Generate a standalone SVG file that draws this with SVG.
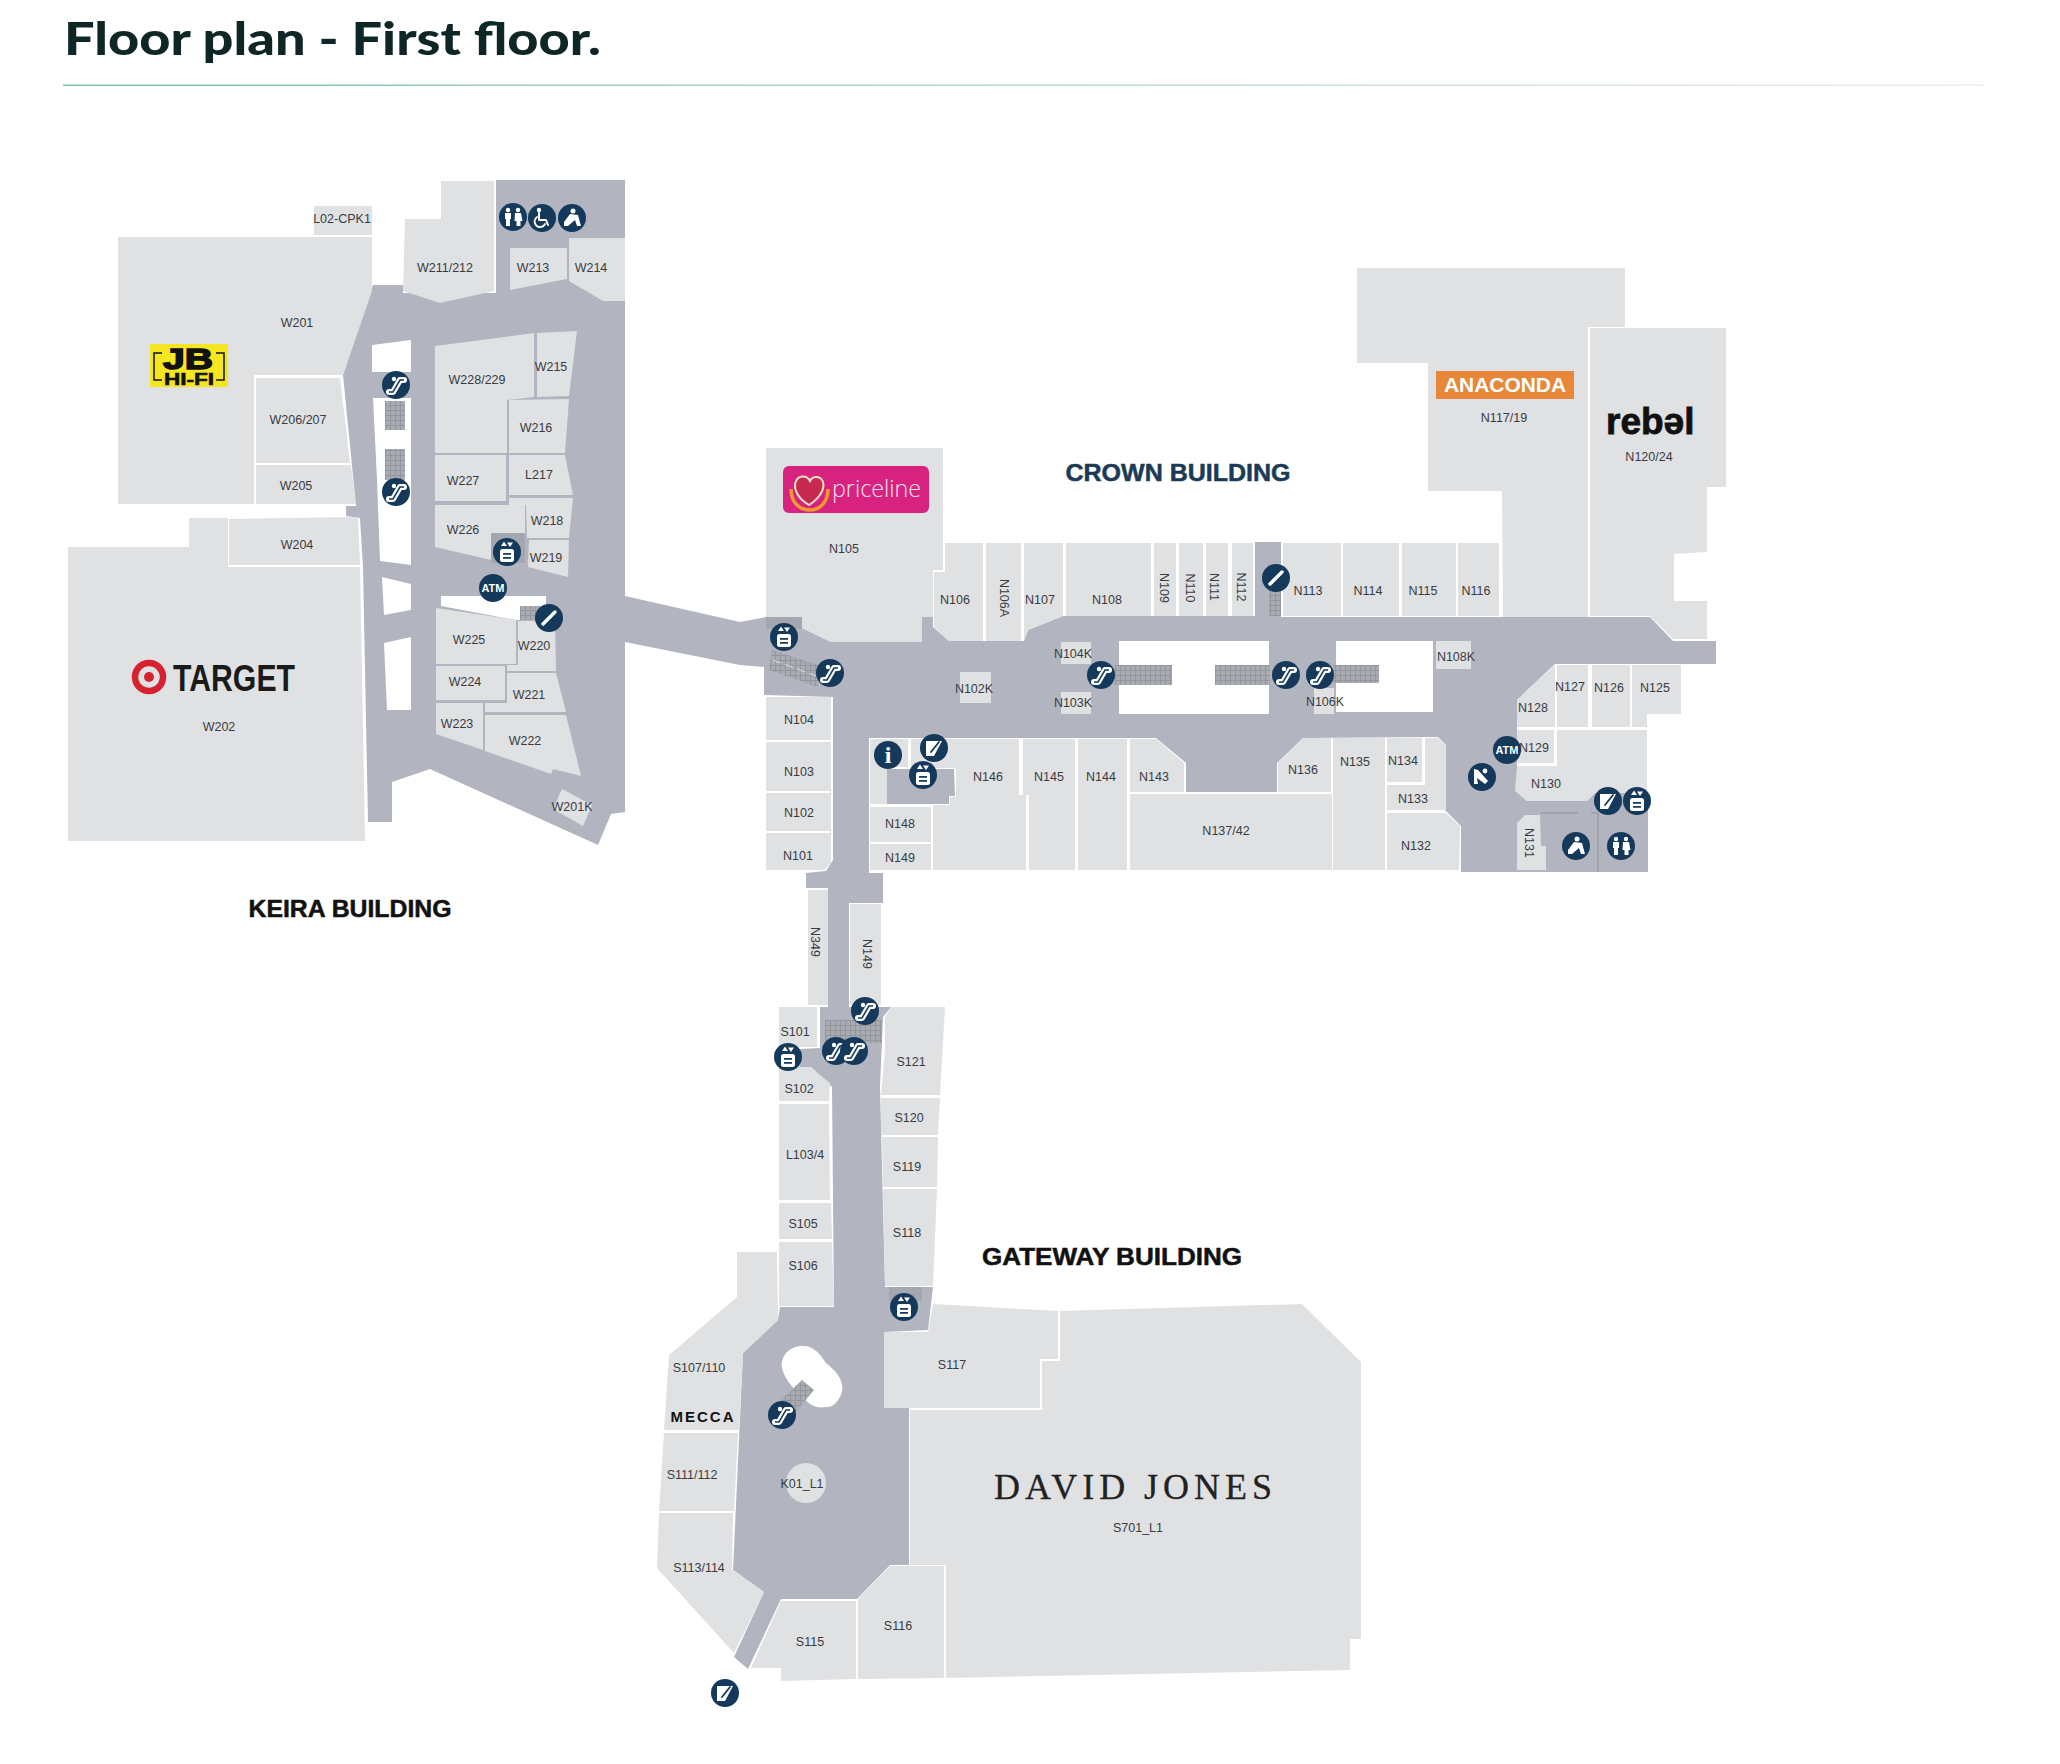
<svg xmlns="http://www.w3.org/2000/svg" width="2060" height="1764" viewBox="0 0 2060 1764">
<style>
.s{fill:#e0e1e3}
.c{fill:#b2b4bf}
.v{fill:#fff}
.g{fill:url(#steps)}
.p{fill:#a5a7b0}
.b{fill:#14395b}
.l{font:12.5px "Liberation Sans",Arial,sans-serif;fill:#383c42;text-anchor:middle;dominant-baseline:central}
.h{font:bold 24px "Liberation Sans",Arial,sans-serif;text-anchor:middle;stroke-width:.5}
.w{fill:#fff}
.ws{fill:none;stroke:#fff;stroke-linecap:round;stroke-linejoin:round}
</style>
<defs>
<linearGradient id="rule" x1="0" x2="1" y1="0" y2="0"><stop offset="0" stop-color="#7cc6a8"/><stop offset=".6" stop-color="#c4dcd2"/><stop offset="1" stop-color="#eeeeee"/></linearGradient>
<pattern id="steps" width="5" height="5" patternUnits="userSpaceOnUse"><rect width="5" height="5" fill="#a9abb2"/><path d="M0 .5H5M.5 0V5" stroke="#94969e" stroke-width="1"/></pattern>
<g id="esc"><circle class="b" r="14"/><path class="ws" stroke-width="6" d="M-7 7H-3L4-5H8"/><path d="M-7 7H-3L4-5H8" fill="none" stroke="#14395b" stroke-width="1.500"/><circle class="w" cx="-2" cy="-6" r="2.200"/></g>
<g id="lift"><circle class="b" r="14"/><rect class="w" x="-7" y="-3" width="14" height="13" rx="2.500"/><path class="b" d="M-4 1h8v1.800h-8zM-4 5h8v1.800h-8z"/><path class="w" d="M-3-10.500l3 4.500h-6zM3-5l-3-4.500h6z"/></g>
<g id="wc"><circle class="b" r="14"/><circle class="w" cx="-5" cy="-7" r="2.200"/><circle class="w" cx="5" cy="-7" r="2.200"/><path class="w" d="M-8-4h6v6h-1v7h-4v-7h-1zM2-4h6l1.500 8h-2v5h-4v-5h-2z"/></g>
<g id="acc"><circle class="b" r="14"/><circle class="w" cx="-3" cy="-8" r="2.200"/><path class="ws" stroke-width="2" d="M-3-5V2H4L6 7"/><path class="ws" stroke-width="1.800" d="M-5-1A5.500 5.500 0 1 0 3 6"/></g>
<g id="par"><circle class="b" r="14"/><circle class="w" cx="1" cy="-7" r="2.500"/><path class="w" d="M-2-4L6-3 9 8H5L3 2-4 8-8 8-8 4z"/></g>
<g id="exit"><circle class="b" r="14"/><path class="w" d="M-8-8l4 1 10 11-3 3-8-6 1 6h-4z"/><circle class="w" cx="3" cy="-6" r="2.400"/></g>
<g id="taxi"><circle class="b" r="14"/><path class="w" d="M-8-7H8L0 8H-8z"/><path d="M-3 4L5-6" fill="none" stroke="#14395b" stroke-width="1.800" stroke-linecap="round"/></g>
<g id="slash"><circle class="b" r="14"/><path class="ws" stroke-width="3.500" d="M-6 6L6-6"/></g>
</defs>

<text x="64" y="55" font-family="Lato,'Liberation Sans',sans-serif" font-weight="900" font-size="46" fill="#0f2626" textLength="537" lengthAdjust="spacingAndGlyphs">Floor plan - First floor.</text>
<rect x="63" y="84.500" width="1922" height="1.500" fill="url(#rule)"/>

<g id="connectors">
<polygon id="concourse-keira" class="c" points="373,285 403,285 403,293 496,293 496,180 625,180 625,812 611,814 598,845 430,769 392,782 392,822 368,822 363,567 360,518 346,516 346,506 356,506 343,375"/>
<polygon id="concourse-main" class="c" points="625,596 740,622 766,617 802,617 802,628 831,642 922,642 922,617 933,617 933,627 949,641 1024,641 1028,630 1063,616 1255,616 1255,542 1281,542 1281,617 1650,617 1673,641 1716,641 1716,664 1555,664 1517,700 1517,790 1527,801 1587,801 1595,793 1648,793 1648,872 1461,872 1461,826 1445,810 1446,745 1438,737 1303,738 1277,763 1277,792 1186,792 1186,763 1156,738 869,738 869,873 883,873 883,903 849,903 849,1007 891,1007 883,1017 880,1087 885,1287 933,1287 928,1330 884,1332 884,1408 909,1408 909,1565 890,1565 857,1599 781,1599 748,1669 734,1657 764,1592 733,1570 743,1353 778,1320 780,1307 834,1307 832,1087 811,1067 800,1067 800,1049 820,1048 820,1007 828,1007 828,888 806,888 806,873 826,871 833,860 833,697 764,695 764,667 740,665 625,642"/>
<path d="M1541 813H1578M1591 813H1598V872" fill="none" stroke="#8f919b" stroke-width="1"/>
</g>

<g id="voids">
<polygon class="v" points="372,345 411,340 411,372 372,372"/>
<polygon class="v" points="372,398 411,398 411,565 380,561 377,480 373,398"/>
<polygon class="v" points="382,577 411,584 411,610 384,615"/>
<polygon class="v" points="384,643 411,637 411,710 387,710"/>
<polygon class="v" points="441,596 546,596 546,620 516,620 441,606"/>
<rect class="v" x="1119" y="641" width="150" height="73"/>
<rect class="v" x="1336" y="641" width="97" height="71"/>
<path class="v" d="M802 1346C812 1345 820 1353 826 1363 838 1372 844 1382 842 1392 839 1402 832 1408 826 1407 815 1409 808 1404 802 1396 794 1390 784 1378 782 1368 780 1356 790 1346 802 1346Z"/>
</g>

<g id="escalators">
<rect class="g" x="385" y="401" width="20" height="29"/>
<rect class="g" x="385" y="449" width="20" height="31"/>
<rect class="g" x="520" y="606" width="20" height="14"/>
<polygon class="g" points="772,650 818,665 818,687 769,670"/>
<path d="M773 660L816 676" fill="none" stroke="#fff" stroke-width="1" stroke-dasharray="8 5" opacity=".7"/>
<rect class="g" x="1115" y="665" width="57" height="20"/>
<rect class="g" x="1215" y="665" width="55" height="20"/>
<rect class="g" x="1333" y="665" width="46" height="18"/>
<rect class="g" x="1269" y="590" width="12" height="26"/>
<rect class="g" x="825" y="1020" width="57" height="23"/>
<polygon class="g" points="802,1380 814,1390 795,1413 781,1400"/>
</g>

<g id="lift-lobbies">
<rect class="p" x="491" y="533" width="34" height="30"/>
<polygon class="c" points="887,769 954,769 955,796 949,796 949,804 887,804"/>
<rect class="p" x="766" y="617" width="36" height="12"/>
<rect class="p" x="889" y="1287" width="33" height="14"/>
</g>

<g id="W201"><polygon class="s" points="118,237 372,237 372,291 343,375 254,375 254,504 118,504"/><text class="l" x="297" y="323">W201</text></g>
<g id="W206-207"><polygon class="s" points="256,378 340,378 350,463 256,463"/><text class="l" x="298" y="420">W206/207</text></g>
<g id="W205"><polygon class="s" points="256,465 351,465 356,504 256,504"/><text class="l" x="296" y="486">W205</text></g>
<g id="L02-CPK1"><rect class="s" x="314" y="206" width="58" height="29"/><text class="l" x="342" y="219">L02-CPK1</text></g>
<g id="W211-212"><polygon class="s" points="441,181 494,181 494,291 440,303 403,291 405,219 441,219"/><text class="l" x="445" y="268">W211/212</text></g>
<g id="W213"><polygon class="s" points="510,248 567,248 567,279 510,290"/><text class="l" x="533" y="268">W213</text></g>
<g id="W214"><polygon class="s" points="569,238 625,238 625,301 603,301 569,281"/><text class="l" x="591" y="268">W214</text></g>
<g id="W204"><polygon class="s" points="229,519 358,517 360,565 229,565"/><text class="l" x="297" y="545">W204</text></g>
<g id="W202"><polygon class="s" points="68,547 189,547 189,518 228,518 228,567 360,567 365,841 68,841"/><text class="l" x="219" y="727">W202</text></g>
<g id="W228-229"><polygon class="s" points="435,346 534,333 534,397 507,400 507,453 435,453"/><text class="l" x="477" y="380">W228/229</text></g>
<g id="W215"><polygon class="s" points="537,333 577,331 569,396 537,397"/><text class="l" x="551" y="367">W215</text></g>
<g id="W216"><polygon class="s" points="509,400 569,399 565,453 509,453"/><text class="l" x="536" y="428">W216</text></g>
<g id="L217"><polygon class="s" points="509,455 565,455 573,495 509,495"/><text class="l" x="539" y="475">L217</text></g>
<g id="W227"><rect class="s" x="435" y="455" width="71" height="46"/><text class="l" x="463" y="481">W227</text></g>
<g id="W226"><polygon class="s" points="435,505 525,505 525,533 491,533 491,560 435,547"/><text class="l" x="463" y="530">W226</text></g>
<g id="W218"><polygon class="s" points="509,498 573,498 569,538 527,538 526,505 509,505"/><text class="l" x="547" y="521">W218</text></g>
<g id="W219"><polygon class="s" points="529,540 569,540 568,577 528,567"/><text class="l" x="546" y="558">W219</text></g>
<g id="W225"><polygon class="s" points="436,608 516,620 516,664 436,664"/><text class="l" x="469" y="640">W225</text></g>
<g id="W220"><polygon class="s" points="518,621 555,621 556,671 507,671 507,665 518,665"/><text class="l" x="534" y="646">W220</text></g>
<g id="W224"><rect class="s" x="436" y="666" width="69" height="34"/><text class="l" x="465" y="682">W224</text></g>
<g id="W221"><polygon class="s" points="507,673 556,673 566,712 485,712 485,703 507,703"/><text class="l" x="529" y="695">W221</text></g>
<g id="W223"><polygon class="s" points="436,703 483,703 483,750 436,734"/><text class="l" x="457" y="724">W223</text></g>
<g id="W222"><polygon class="s" points="485,715 566,715 581,776 553,769 551,774 485,751"/><text class="l" x="525" y="741">W222</text></g>
<g id="W201K"><polygon class="s" points="562,789 592,805 583,826 553,809"/><text class="l" x="572" y="807">W201K</text></g>

<g id="N105"><polygon class="s" points="766,448 943,448 943,570 933,570 933,617 922,617 922,642 831,642 802,628 802,617 766,617"/><text class="l" x="844" y="549">N105</text></g>
<g id="N106"><polygon class="s" points="945,543 983,543 983,641 949,641 934,627 934,572 945,572"/><text class="l" x="955" y="600">N106</text></g>
<g id="N106A"><rect class="s" x="986" y="543" width="35" height="98"/><text class="l" transform="rotate(90 1004 598)" x="1004" y="598">N106A</text></g>
<g id="N107"><polygon class="s" points="1024,543 1063,543 1063,616 1028,630 1024,641"/><text class="l" x="1040" y="600">N107</text></g>
<g id="N108"><rect class="s" x="1066" y="543" width="85" height="73"/><text class="l" x="1107" y="600">N108</text></g>
<g id="N109"><rect class="s" x="1154" y="543" width="22" height="73"/><text class="l" transform="rotate(90 1164 588)" x="1164" y="588">N109</text></g>
<g id="N110"><rect class="s" x="1179" y="543" width="24" height="73"/><text class="l" transform="rotate(90 1190 588)" x="1190" y="588">N110</text></g>
<g id="N111"><rect class="s" x="1206" y="543" width="22" height="73"/><text class="l" transform="rotate(90 1214 587)" x="1214" y="587">N111</text></g>
<g id="N112"><rect class="s" x="1232" y="543" width="21" height="73"/><text class="l" transform="rotate(90 1241 587)" x="1241" y="587">N112</text></g>
<g id="N113"><rect class="s" x="1283" y="543" width="58" height="73"/><text class="l" x="1308" y="591">N113</text></g>
<g id="N114"><rect class="s" x="1343" y="543" width="56" height="73"/><text class="l" x="1368" y="591">N114</text></g>
<g id="N115"><rect class="s" x="1402" y="543" width="54" height="73"/><text class="l" x="1423" y="591">N115</text></g>
<g id="N116"><rect class="s" x="1458" y="543" width="41" height="73"/><text class="l" x="1476" y="591">N116</text></g>
<g id="N117-19"><polygon class="s" points="1357,268 1625,268 1625,327 1588,327 1588,617 1503,617 1502,491 1428,491 1428,363 1357,363"/><text class="l" x="1504" y="418">N117/19</text></g>
<g id="N120-24"><polygon class="s" points="1590,328 1726,328 1726,487 1707,487 1707,552 1674,554 1674,601 1707,601 1707,639 1673,639 1650,616 1590,616"/><text class="l" x="1649" y="457">N120/24</text></g>
<g id="N104K"><rect class="s" x="1061" y="642" width="30" height="22"/><text class="l" x="1073" y="654">N104K</text></g>
<g id="N103K"><rect class="s" x="1061" y="692" width="30" height="22"/><text class="l" x="1073" y="703">N103K</text></g>
<g id="N102K"><rect class="s" x="960" y="672" width="31" height="31"/><text class="l" x="974" y="689">N102K</text></g>
<g id="N106K"><rect class="s" x="1314" y="688" width="20" height="26"/><text class="l" x="1325" y="702">N106K</text></g>
<g id="N108K"><rect class="s" x="1436" y="641" width="35" height="28"/><text class="l" x="1456" y="657">N108K</text></g>
<g id="N104"><rect class="s" x="766" y="697" width="65" height="43"/><text class="l" x="799" y="720">N104</text></g>
<g id="N103"><rect class="s" x="766" y="742" width="65" height="49"/><text class="l" x="799" y="772">N103</text></g>
<g id="N102"><rect class="s" x="766" y="793" width="65" height="38"/><text class="l" x="799" y="813">N102</text></g>
<g id="N101"><polygon class="s" points="766,833 831,833 831,863 824,870 766,870"/><text class="l" x="798" y="856">N101</text></g>
<g id="N147"><polygon class="s" points="870,739 908,739 908,767 887,767 887,804 870,804"/></g>
<g id="N146"><polygon class="s" points="911,739 1019,739 1019,795 1026,795 1026,870 933,870 933,805 950,805 950,797 956,797 956,768 911,768"/><text class="l" x="988" y="777">N146</text></g>
<g id="N148"><rect class="s" x="870" y="807" width="61" height="35"/><text class="l" x="900" y="824">N148</text></g>
<g id="N149a"><rect class="s" x="870" y="844" width="61" height="26"/><text class="l" x="900" y="858">N149</text></g>
<g id="N145"><polygon class="s" points="1023,739 1075,739 1075,870 1029,870 1029,795 1023,795"/><text class="l" x="1049" y="777">N145</text></g>
<g id="N144"><rect class="s" x="1078" y="739" width="49" height="131"/><text class="l" x="1101" y="777">N144</text></g>
<g id="N143"><polygon class="s" points="1130,739 1156,739 1184,763 1184,792 1130,792"/><text class="l" x="1154" y="777">N143</text></g>
<g id="N137-42"><rect class="s" x="1130" y="794" width="202" height="76"/><text class="l" x="1226" y="831">N137/42</text></g>
<g id="N136"><polygon class="s" points="1303,738 1331,738 1331,792 1278,792 1278,763"/><text class="l" x="1303" y="770">N136</text></g>
<g id="N135"><rect class="s" x="1333" y="738" width="52" height="132"/><text class="l" x="1355" y="762">N135</text></g>
<g id="N134"><rect class="s" x="1387" y="738" width="35" height="44"/><text class="l" x="1403" y="761">N134</text></g>
<g id="N133"><polygon class="s" points="1425,738 1438,738 1446,746 1446,810 1387,810 1387,785 1425,785"/><text class="l" x="1413" y="799">N133</text></g>
<g id="N132"><polygon class="s" points="1387,813 1446,813 1460,826 1459,870 1387,870"/><text class="l" x="1416" y="846">N132</text></g>
<g id="N128"><polygon class="s" points="1517,700 1555,665 1555,727 1517,727"/><text class="l" x="1533" y="708">N128</text></g>
<g id="N127"><rect class="s" x="1557" y="665" width="31" height="62"/><text class="l" x="1570" y="687">N127</text></g>
<g id="N126"><rect class="s" x="1592" y="665" width="38" height="62"/><text class="l" x="1609" y="688">N126</text></g>
<g id="N125"><polygon class="s" points="1632,665 1681,665 1681,714 1647,714 1647,727 1632,727"/><text class="l" x="1655" y="688">N125</text></g>
<g id="N129"><rect class="s" x="1517" y="730" width="37" height="33"/><text class="l" x="1534" y="748">N129</text></g>
<g id="N130"><polygon class="s" points="1517,766 1557,766 1557,730 1647,730 1647,793 1595,793 1587,801 1527,801 1515,791"/><text class="l" x="1546" y="784">N130</text></g>
<g id="N131"><polygon class="s" points="1517,823 1525,815 1540,815 1541,846 1546,846 1546,870 1517,870"/><text class="l" transform="rotate(90 1529 843)" x="1529" y="843">N131</text></g>

<g id="N349"><rect class="s" x="808" y="890" width="20" height="115"/><text class="l" transform="rotate(90 815 942)" x="815" y="942">N349</text></g>
<g id="N149"><rect class="s" x="850" y="904" width="31" height="101"/><text class="l" transform="rotate(90 867 954)" x="867" y="954">N149</text></g>
<g id="S101"><rect class="s" x="779" y="1007" width="38" height="40"/><text class="l" x="795" y="1032">S101</text></g>
<g id="S102"><polygon class="s" points="779,1067 810,1067 830,1083 829,1101 779,1101"/><text class="l" x="799" y="1089">S102</text></g>
<g id="L103-4"><polygon class="s" points="779,1104 829,1104 830,1200 779,1200"/><text class="l" x="805" y="1155">L103/4</text></g>
<g id="S105"><polygon class="s" points="779,1203 831,1203 832,1239 779,1239"/><text class="l" x="803" y="1224">S105</text></g>
<g id="S106"><polygon class="s" points="779,1242 832,1242 834,1306 779,1306"/><text class="l" x="803" y="1266">S106</text></g>
<g id="S121"><polygon class="s" points="891,1007 945,1007 940,1095 881,1095 885,1050 885,1017"/><text class="l" x="911" y="1062">S121</text></g>
<g id="S120"><polygon class="s" points="881,1098 940,1098 938,1135 881,1135"/><text class="l" x="909" y="1118">S120</text></g>
<g id="S119"><polygon class="s" points="882,1137 938,1137 937,1187 883,1187"/><text class="l" x="907" y="1167">S119</text></g>
<g id="S118"><polygon class="s" points="883,1189 937,1189 933,1286 885,1286"/><text class="l" x="907" y="1233">S118</text></g>
<g id="S107-110"><polygon class="s" points="737,1252 777,1252 778,1320 743,1353 739,1430 664,1430 669,1355 737,1297"/><text class="l" x="699" y="1368">S107/110</text></g>
<g id="S111-112"><polygon class="s" points="664,1433 738,1433 734,1511 659,1511"/><text class="l" x="692" y="1475">S111/112</text></g>
<g id="S113-114"><polygon class="s" points="659,1513 733,1513 732,1570 764,1592 734,1653 657,1568"/><text class="l" x="699" y="1568">S113/114</text></g>
<g id="S115"><polygon class="s" points="781,1601 856,1601 856,1679 781,1681 781,1668 751,1668"/><text class="l" x="810" y="1642">S115</text></g>
<g id="S116"><polygon class="s" points="858,1599 890,1566 944,1566 944,1678 858,1679"/><text class="l" x="898" y="1626">S116</text></g>
<g id="S117"><polygon class="s" points="884,1332 928,1332 933,1304 1058,1311 1058,1359 1040,1359 1040,1408 884,1408"/><text class="l" x="952" y="1365">S117</text></g>
<g id="S701-L1"><polygon class="s" points="1060,1311 1302,1304 1361,1362 1361,1639 1350,1639 1350,1670 946,1678 946,1565 910,1565 910,1410 1042,1410 1042,1361 1060,1361"/><text class="l" x="1138" y="1528">S701_L1</text></g>
<g id="K01-L1"><circle class="s" cx="806" cy="1483" r="20"/><text class="l" x="802" y="1484">K01_L1</text></g>

<g id="brand-logos">
<g id="jbhifi"><rect x="150" y="344" width="78" height="43" fill="#f5e622"/><path d="M162 353H154V380H162M216 353H224V380H216" fill="none" stroke="#111" stroke-width="1.500"/><text x="188" y="369" font-family="Liberation Sans,sans-serif" font-weight="bold" font-size="30" fill="#111" text-anchor="middle" stroke="#111" stroke-width="1.500" textLength="50" lengthAdjust="spacingAndGlyphs">JB</text><text x="189" y="385" font-family="Liberation Sans,sans-serif" font-weight="bold" font-size="16" fill="#111" text-anchor="middle" stroke="#111" stroke-width=".6" textLength="50" lengthAdjust="spacingAndGlyphs">HI-FI</text></g>
<g id="target"><circle cx="149" cy="677" r="14" fill="none" stroke="#d6222f" stroke-width="6.500"/><circle cx="149" cy="677" r="5" fill="#d6222f"/><text x="173" y="691" font-family="Liberation Sans,sans-serif" font-weight="bold" font-size="37" fill="#1a1a1a" textLength="122" lengthAdjust="spacingAndGlyphs">TARGET</text></g>
<g id="priceline"><rect x="783" y="466" width="146" height="47" rx="6" fill="#d7237f"/><path d="M791 489C791 503 800 510 810 510 820 510 828 502 828 489" fill="none" stroke="#ee9a2e" stroke-width="3.500"/><path d="M809 505C797 498 793 488 796 481 799 475 807 475 810 481 813 475 821 476 823 482 825 489 820 498 809 505Z" fill="#c72a4f" stroke="#f9dcc6" stroke-width="2"/><text x="832" y="497" font-family="Open Sans,Liberation Sans,sans-serif" font-size="24" font-weight="300" fill="#fbe3ef" textLength="89" lengthAdjust="spacingAndGlyphs">priceline</text></g>
<g id="anaconda"><rect x="1436" y="371" width="138" height="28" fill="#e6873a"/><text x="1505" y="392" font-family="Liberation Sans,sans-serif" font-weight="bold" font-size="20" fill="#fff" text-anchor="middle" textLength="122" lengthAdjust="spacingAndGlyphs">ANACONDA</text></g>
<g id="rebel"><text x="1606 1620.400 1641 1684.200 1684.200" y="434 434 434 414 434" rotate="0 0 0 180 0" font-family="Liberation Sans,sans-serif" font-weight="bold" font-size="37" fill="#111" stroke="#111" stroke-width=".8">rebel</text></g>
<g id="mecca"><text x="702" y="1422" font-family="Liberation Sans,sans-serif" font-weight="bold" font-size="15" fill="#111" text-anchor="middle" textLength="63" lengthAdjust="spacing">MECCA</text></g>
<g id="davidjones"><text x="994" y="1499" font-family="Liberation Serif,serif" font-size="36" fill="#222" stroke="#222" stroke-width=".3" textLength="278" lengthAdjust="spacing">DAVID JONES</text></g>
</g>

<g id="building-labels">
<text id="crown" class="h" x="1178" y="481" fill="#1b3a55" stroke="#1b3a55" textLength="225" lengthAdjust="spacingAndGlyphs">CROWN BUILDING</text>
<text id="keira" class="h" x="350" y="917" fill="#111" stroke="#111" textLength="203" lengthAdjust="spacingAndGlyphs">KEIRA BUILDING</text>
<text id="gateway" class="h" x="1112" y="1265" fill="#111" stroke="#111" textLength="260" lengthAdjust="spacingAndGlyphs">GATEWAY BUILDING</text>
</g>

<g id="icons">
<use href="#wc" x="513" y="217"/><use href="#acc" x="542" y="218"/><use href="#par" x="572" y="218"/>
<use href="#esc" x="396" y="385"/><use href="#esc" x="396" y="492"/>
<use href="#lift" x="507" y="552"/>
<g id="atm1"><circle class="b" cx="493" cy="588" r="14"/><text x="493" y="592" font-family="Liberation Sans,sans-serif" font-weight="bold" font-size="11" fill="#fff" text-anchor="middle">ATM</text></g>
<use href="#slash" x="549" y="618"/>
<use href="#lift" x="784" y="637"/><use href="#esc" x="830" y="673"/>
<use href="#esc" x="1101" y="675"/><use href="#esc" x="1286" y="675"/><use href="#esc" x="1320" y="675"/>
<use href="#slash" x="1276" y="578"/>
<g id="info"><circle class="b" cx="888" cy="755" r="14"/><text x="888" y="763" font-family="Liberation Serif,serif" font-weight="bold" font-size="24" fill="#fff" text-anchor="middle">i</text></g>
<use href="#taxi" x="934" y="748"/><use href="#lift" x="923" y="775"/>
<g id="atm2"><circle class="b" cx="1507" cy="750" r="14"/><text x="1507" y="754" font-family="Liberation Sans,sans-serif" font-weight="bold" font-size="11" fill="#fff" text-anchor="middle">ATM</text></g>
<use href="#exit" x="1482" y="777"/><use href="#taxi" x="1608" y="801"/><use href="#lift" x="1637" y="801"/>
<use href="#par" x="1576" y="846"/><use href="#wc" x="1621" y="846"/>
<use href="#lift" x="788" y="1057"/><use href="#esc" x="836" y="1051"/><use href="#esc" x="854" y="1051"/><use href="#esc" x="865" y="1011"/>
<use href="#lift" x="904" y="1307"/><use href="#esc" x="782" y="1415"/><use href="#taxi" x="725" y="1693"/>
</g>
</svg>
